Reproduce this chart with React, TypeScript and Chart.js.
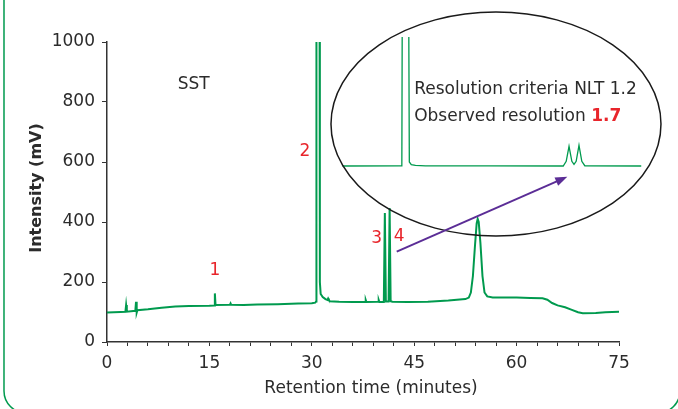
import React, { useEffect, useRef } from 'react';
import { Chart, registerables } from 'chart.js';

Chart.register(...registerables);

// ---- Main chromatogram (retention time in minutes, intensity in mV) ----
const mainTime = [
  0, 1, 2, 2.7, 2.8, 2.9, 4.15, 4.25, 4.35, 4.45, 6, 8, 10, 12, 15, 15.7, 15.8, 15.9,
  18.0, 18.1, 18.2, 20, 22, 25, 28, 30, 30.5, 30.62, 30.68, 31.12, 31.18, 31.3, 31.6, 32, 32.3,
  32.4, 32.5, 32.6, 34, 36, 37.8, 37.9, 38.0, 39.7, 39.8, 39.9, 40.55, 40.7, 40.85, 41.25, 41.4,
  41.55, 41.8, 44, 47, 50, 52.5, 53.0, 53.3, 53.6, 53.9, 54.15, 54.3, 54.45, 54.7, 55.0, 55.3,
  55.7, 56.5, 60, 62, 63.8, 64.5, 65.2, 66, 67.1, 68, 69, 69.7, 71.6, 73, 75,
];
const mainSignal = [
  98, 99, 100, 101, 123, 101, 104, 134, 98, 106, 109, 114, 118, 120, 121, 122, 162, 123,
  124, 129, 124, 123, 125, 126, 128, 129, 131, 135, 1600, 1600, 200, 160, 150, 143, 140,
  145, 141, 136, 134, 133, 133, 140, 133, 134, 140, 133, 133, 430, 135, 135, 447,
  136, 134, 133, 134, 138, 143, 148, 165, 220, 320, 395, 410, 400, 330, 220, 165,
  152, 148, 148, 147, 146, 141, 130, 122, 116, 108, 99, 96, 97, 99, 101,
];

// ---- Inset (zoomed view of the critical pair) ----
const insetTime = [
  27.2, 30.6, 30.78, 30.8, 31.0, 31.2, 31.23, 31.35, 31.6, 32.2, 36, 40.5, 40.68, 40.85, 41.02,
  41.15, 41.28, 41.45, 41.62, 41.8, 45.2,
];
const insetSignal = [
  130, 131, 132, 2065, null, 2065, 190, 150, 138, 133, 131, 130, 200, 425, 200,
  155, 200, 440, 200, 134, 130,
];

// ---- Axis ticks ----
const xMin = 0;
const xMax = 75;
const xMinorStep = 3;
const xMajorStep = 15;
const yMin = 0;
const yMax = 1000;
const yStep = 200;

// ---- Annotation texts ----
const peakLabels = ['1', '2', '3', '4'];
const peakLabelTime = [15.82, 29.0, 39.5, 42.8];
const peakLabelSignal = [238, 634, 346, 351];
const sampleLabel = 'SST';
const insetLine1 = 'Resolution criteria NLT 1.2';
const insetLine2 = 'Observed resolution ';
const insetValue = '1.7';
const xTitle = 'Retention time (minutes)';
const yTitle = 'Intensity (mV)';

const GREEN = '#009a4e';
const RED = '#e8252b';
const PURPLE = '#5b2d96';
const TEXT = '#2b2b2b';
const FONT = "'DejaVu Sans', Verdana, sans-serif";

const annotate = {
  id: 'annotate',
  beforeDraw(chart: any) {
    const ctx = chart.ctx;
    ctx.save();
    ctx.strokeStyle = GREEN;
    ctx.lineWidth = 1.5;
    ctx.beginPath();
    ctx.roundRect(4, -60, 676, 473, 22);
    ctx.stroke();
    ctx.restore();
  },
  afterDatasetsDraw(chart: any) {
    const ctx = chart.ctx;
    const xs = chart.scales.x;
    const ys = chart.scales.y;
    const px = (t: number) => xs.getPixelForValue(t);
    const py = (v: number) => ys.getPixelForValue(v);
    ctx.save();

    // ellipse around inset
    const cx = px(56.98);
    const cy = py(726.7);
    const rx = px(56.98 + 24.17) - cx;
    const ry = cy - py(726.7 + 373.3);
    ctx.strokeStyle = '#1a1a1a';
    ctx.lineWidth = 1.5;
    ctx.beginPath();
    ctx.ellipse(cx, cy, rx, ry, 0, 0, Math.PI * 2);
    ctx.stroke();

    // arrow
    const x0 = px(42.44), y0 = py(301);
    const x1 = px(67.43), y1 = py(551);
    const ang = Math.atan2(y1 - y0, x1 - x0);
    const head = 12;
    ctx.strokeStyle = PURPLE;
    ctx.fillStyle = PURPLE;
    ctx.lineWidth = 2;
    ctx.beginPath();
    ctx.moveTo(x0, y0);
    ctx.lineTo(x1 - Math.cos(ang) * head * 0.8, y1 - Math.sin(ang) * head * 0.8);
    ctx.stroke();
    ctx.beginPath();
    ctx.moveTo(x1, y1);
    ctx.lineTo(x1 - Math.cos(ang) * head + Math.sin(ang) * 4.5, y1 - Math.sin(ang) * head - Math.cos(ang) * 4.5);
    ctx.lineTo(x1 - Math.cos(ang) * head - Math.sin(ang) * 4.5, y1 - Math.sin(ang) * head + Math.cos(ang) * 4.5);
    ctx.closePath();
    ctx.fill();

    // peak labels
    ctx.font = `17px ${FONT}`;
    ctx.textAlign = 'center';
    ctx.textBaseline = 'middle';
    ctx.fillStyle = RED;
    peakLabels.forEach((s, i) => ctx.fillText(s, px(peakLabelTime[i]), py(peakLabelSignal[i])));

    // SST
    ctx.fillStyle = TEXT;
    ctx.fillText(sampleLabel, px(12.7), py(857));

    // inset texts
    ctx.textAlign = 'left';
    ctx.fillText(insetLine1, px(45.0), py(842));
    ctx.fillText(insetLine2, px(45.0), py(751));
    const w = ctx.measureText(insetLine2).width;
    ctx.font = `bold 17px ${FONT}`;
    ctx.fillStyle = RED;
    ctx.fillText(insetValue, px(45.0) + w, py(751));

    // axis titles
    ctx.fillStyle = TEXT;
    ctx.font = `17px ${FONT}`;
    ctx.textAlign = 'center';
    ctx.fillText(xTitle, (chart.chartArea.left + chart.chartArea.right) / 2 + 8, 389);
    ctx.translate(37, (chart.chartArea.top + chart.chartArea.bottom) / 2 - 4);
    ctx.rotate(-Math.PI / 2);
    ctx.font = `bold 16px ${FONT}`;
    ctx.fillText(yTitle, 0, 0);
    ctx.restore();
  },
};

export default function App() {
  const ref = useRef<HTMLCanvasElement>(null);
  useEffect(() => {
    Chart.defaults.font.family = FONT;
    Chart.defaults.font.size = 17;
    const chart = new Chart(ref.current as HTMLCanvasElement, {
      type: 'line',
      data: {
        datasets: [
          {
            label: 'SST',
            data: mainTime.map((t, i) => ({ x: t, y: mainSignal[i] })),
            borderColor: GREEN,
            borderWidth: 2,
            pointRadius: 0,
            tension: 0,
            clip: 0,
            xAxisID: 'x',
            yAxisID: 'y',
          },
          {
            label: 'Inset',
            data: insetTime.map((t, i) => ({ x: t, y: insetSignal[i] })),
            borderColor: GREEN,
            borderWidth: 1.3,
            pointRadius: 0,
            tension: 0,
            clip: false,
            spanGaps: false,
            xAxisID: 'xIn',
            yAxisID: 'yIn',
          },
        ] as any,
      },
      options: {
        animation: false,
        responsive: true,
        maintainAspectRatio: false,
        layout: { padding: { top: 42, right: 59, left: 0, bottom: 0 } },
        plugins: { legend: { display: false }, tooltip: { enabled: false } },
        events: [],
        scales: {
          x: {
            type: 'linear',
            min: xMin,
            max: xMax,
            ticks: {
              stepSize: xMinorStep,
              autoSkip: false,
              maxRotation: 0,
              padding: 7,
              color: TEXT,
              font: { size: 17 },
              callback: (v: any) => (Number(v) % xMajorStep === 0 ? String(v) : ''),
            },
            grid: { display: true, drawOnChartArea: false, drawTicks: true, tickLength: 4, color: '#333', lineWidth: 1 },
            border: { display: true, color: '#333', width: 1.5 },
            afterFit: (s: any) => { s.height = 67; },
          },
          y: {
            type: 'linear',
            min: yMin,
            max: yMax,
            ticks: { stepSize: yStep, padding: 7, color: TEXT, font: { size: 17 }, callback: (v: any) => String(v) },
            grid: { display: true, drawOnChartArea: false, drawTicks: true, tickLength: 5, color: '#333', lineWidth: 1 },
            border: { display: true, color: '#333', width: 1.5 },
            afterFit: (s: any) => { s.width = 107; },
          },
          xIn: { type: 'linear', display: false, min: 13.02, max: 43.86 },
          yIn: { type: 'linear', display: false, min: -2510, max: 1990 },
        },
      } as any,
      plugins: [annotate],
    });
    return () => chart.destroy();
  }, []);
  return (
    <div style={{ position: 'absolute', left: 0, top: 0, width: 678, height: 409 }}>
      <canvas ref={ref} />
    </div>
  );
}
